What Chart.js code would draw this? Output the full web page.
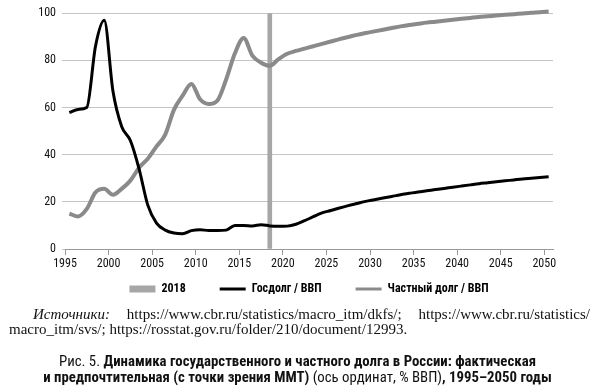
<!DOCTYPE html>
<html>
<head>
<meta charset="utf-8">
<script src="https://cdn.jsdelivr.net/npm/chart.js@4.4.1/dist/chart.umd.min.js"></script>
<style>
  body { margin: 0; background: #fff; width: 595px; height: 390px; overflow: hidden; }
  #wrap { position: absolute; left: 0; top: 0; width: 595px; height: 335px; }
  .src {
    position: absolute; left: 9px; top: 307px; width: 581px;
    font-family: "Liberation Serif", serif; font-size: 15px; line-height: 15px;
    text-align: justify; text-indent: 24px; color: #111;
  }
  .cap {
    position: absolute; left: 0; top: 354px; width: 595px; text-align: center;
    font-family: "Roboto Condensed", "DejaVu Sans Condensed", sans-serif;
    font-size: 14.8px; line-height: 15.5px; color: #111;
  }
  .cap b { font-weight: bold; }
</style>
</head>
<body>
<div id="wrap"><canvas id="chart" width="595" height="335"></canvas></div>
<div class="src"><i>Источники:</i> &nbsp; https://www.cbr.ru/statistics/macro_itm/dkfs/; &nbsp; https://www.cbr.ru/statistics/ macro_itm/svs/; https://rosstat.gov.ru/folder/210/document/12993.</div>
<div class="cap">Рис. 5. <b>Динамика государственного и частного долга в России: фактическая<br>и предпочтительная (с точки зрения ММТ)</b> (ось ординат, % ВВП)<b>, 1995–2050 годы</b></div>
<script>
  // years 1995..2050, points sit in the middle of each year
  const years = [];
  for (let y = 1995; y <= 2050; y++) years.push(y);

  const govDebt = [
    57.8, 59.2, 60.0, 86.0, 97.0, 67.0, 52.0, 46.0, 34.0, 18.6,
    11.0, 8.0, 6.8, 6.5, 7.8, 8.2, 7.8, 7.8, 8.0, 10.0,
    10.0, 9.8, 10.3, 9.8, 9.6, 9.7, 10.5, 12.0, 13.7, 15.3,
    16.3, 17.4, 18.4, 19.3, 20.2, 20.9, 21.6, 22.3, 23.0, 23.6,
    24.2, 24.7, 25.2, 25.7, 26.2, 26.7, 27.2, 27.7, 28.1, 28.5,
    28.9, 29.3, 29.7, 30.0, 30.3, 30.6
  ];

  const privDebt = [
    15.0, 13.8, 17.0, 24.0, 25.5, 23.0, 25.5, 29.0, 34.5, 38.3,
    43.5, 48.5, 59.0, 65.0, 70.0, 63.5, 61.5, 63.0, 72.0, 83.0,
    89.5, 82.0, 79.0, 77.7, 80.5, 82.8, 84.0, 85.0, 86.0, 87.0,
    88.0, 89.0, 89.9, 90.8, 91.6, 92.3, 93.0, 93.7, 94.4, 95.0,
    95.5, 96.0, 96.4, 96.8, 97.2, 97.6, 98.0, 98.4, 98.7, 99.0,
    99.3, 99.6, 99.9, 100.2, 100.4, 100.7
  ];

  const markYear = 2018;
  const markValue = 100;

  const xTicks = [1995, 2000, 2005, 2010, 2015, 2020, 2025, 2030, 2035, 2040, 2045, 2050];
  const yTicks = [0, 20, 40, 60, 80, 100];

  const font = "'Roboto Condensed', 'DejaVu Sans Condensed', sans-serif";

  // legend needs wide gaps between items but sits close under the axis
  const legendLift = {
    id: "legendLift",
    afterLayout(chart) {
      chart.legend.top -= 30;
      chart.legend.bottom -= 30;
    },
  };

  new Chart(document.getElementById("chart"), {
    data: {
      datasets: [
        {
          type: "bar",
          label: String(markYear),
          data: [{ x: markYear + 0.5, y: markValue }],
          backgroundColor: "#a6a6a6",
          borderColor: "#a6a6a6",
          borderWidth: 0,
          barThickness: 4,
          pointStyle: "rect",
          order: 3,
        },
        {
          type: "line",
          label: "Госдолг / ВВП",
          data: years.map((y, i) => ({ x: y + 0.5, y: govDebt[i] })),
          borderColor: "#000",
          backgroundColor: "#000",
          borderWidth: 3,
          pointRadius: 0,
          cubicInterpolationMode: "monotone",
          pointStyle: "line",
          order: 1,
        },
        {
          type: "line",
          label: "Частный долг / ВВП",
          data: years.map((y, i) => ({ x: y + 0.5, y: privDebt[i] })),
          borderColor: "#8a8a8a",
          backgroundColor: "#8a8a8a",
          borderWidth: 4,
          pointRadius: 0,
          cubicInterpolationMode: "monotone",
          pointStyle: "line",
          clip: false,
          order: 2,
        },
      ],
    },
    plugins: [legendLift],
    options: {
      responsive: false,
      animation: false,
      layout: { padding: { left: 0, right: 42, top: 12, bottom: 0 } },
      plugins: {
        tooltip: { enabled: false },
        legend: {
          position: "bottom",
          fullSize: false,
          labels: {
            usePointStyle: true,
            pointStyleWidth: 26,
            boxHeight: 7,
            padding: 34,
            color: "#111",
            font: { family: font, size: 12, weight: "bold" },
            generateLabels(chart) {
              return chart.data.datasets.map((ds, i) => ({
                text: ds.label,
                fillStyle: ds.backgroundColor,
                strokeStyle: ds.borderColor,
                lineWidth: ds.type === "bar" ? 0 : 3,
                pointStyle: ds.pointStyle,
                datasetIndex: i,
                hidden: false,
              }));
            },
          },
        },
      },
      scales: {
        x: {
          type: "linear",
          min: 1995,
          max: 2051,
          offset: false,
          afterBuildTicks(scale) {
            scale.ticks = xTicks.map((v) => ({ value: v }));
          },
          afterFit(scale) { scale.height = 30; },
          grid: { offset: false, drawOnChartArea: false, drawTicks: true, tickLength: 6, color: "#999" },
          border: { display: true, color: "#999" },
          ticks: {
            color: "#111",
            padding: 2,
            font: { family: font, size: 12 },
            callback: (v) => String(v),
            maxRotation: 0,
            autoSkip: false,
          },
        },
        y: {
          min: 0,
          max: 100,
          afterBuildTicks(scale) {
            scale.ticks = yTicks.map((v) => ({ value: v }));
          },
          afterFit(scale) { scale.width = 65; },
          grid: { color: "#c4c4c4", tickLength: 3 },
          border: { display: false },
          ticks: {
            color: "#111",
            padding: 6,
            font: { family: font, size: 12 },
          },
        },
      },
    },
  });
</script>
</body>
</html>
